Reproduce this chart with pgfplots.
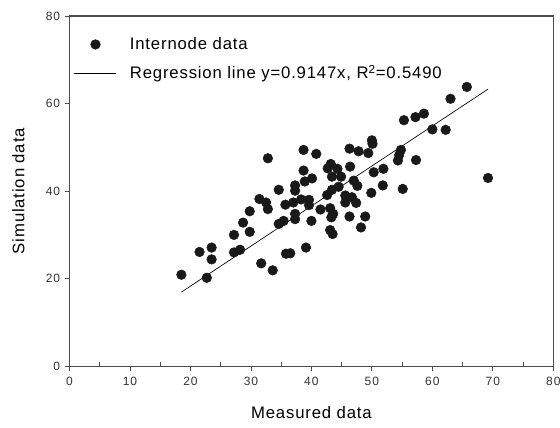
\documentclass[border=0pt]{standalone}
\usepackage{fontspec}
\setmainfont{Liberation Sans}
\newfontfamily\spaced[LetterSpace=5]{Liberation Sans}
\newfontfamily\tickfont[LetterSpace=8]{Liberation Sans}
\usepackage{pgfplots}
\pgfplotsset{compat=1.18}
\pgfplotsset{
  dotlegend/.style={legend image code/.code={\draw[##1] plot coordinates {(16pt,0cm)};}},
  linelegend/.style={legend image code/.code={\draw[##1] (0pt,0cm) -- (31.5pt,0cm);}},
}
\begin{document}
\begin{tikzpicture}
\begin{axis}[
  scale only axis,
  width=362pt, height=262pt,
  xmin=0, xmax=80, ymin=0, ymax=80,
  xtick={0,10,...,80}, ytick={0,20,...,80},
  minor x tick num=1,
  xtick pos=bottom, ytick pos=left,
  tick align=outside,
  major tick length=3.5pt, minor tick length=3pt,
  minor tick style={yshift=3pt},
  axis line style={draw=black!70, line width=0.8pt},
  tick style={draw=black!70, line width=0.6pt},
  /pgf/number format/assume math mode=true,
  tick label style={font=\tickfont\fontsize{9}{10}\selectfont, text=black!80},
  xticklabel style={yshift=-1pt},
  xlabel={Measured data}, ylabel={Simulation data},
  label style={font=\spaced\fontsize{12.5}{14}\selectfont},
  xlabel style={yshift=-9pt}, ylabel style={yshift=9pt},
  legend style={at={(0.0,0.955)}, anchor=north west, draw=none, fill=none,
    font=\spaced\fontsize{12.5}{14}\selectfont, row sep=6pt,
    /tikz/every odd column/.append style={column sep=8pt}},
  legend cell align=left,
]
\addplot[only marks, mark=*, mark size=3.6pt, color=black!90, dotlegend]
  coordinates {
(18.5,20.9) (22.7,20.2) (21.5,26.1) (23.5,27.1) (23.5,24.4) (27.2,30.0)
(27.2,26.0) (28.2,26.6) (28.7,32.8) (29.8,35.4) (29.8,30.7) (31.4,38.2)
(32.8,47.5) (32.5,37.4) (32.8,35.9) (34.6,40.3) (34.6,32.5) (31.7,23.5)
(33.6,21.9) (38.7,49.4) (40.8,48.5) (46.3,49.7) (47.8,49.1) (49.4,48.7)
(50.0,51.6) (50.1,50.8) (55.3,56.2) (57.2,56.9) (54.8,49.4) (54.3,47.0) (54.5,48.2)
(57.3,47.1) (55.1,40.5) (51.9,45.1) (51.8,41.3) (50.3,44.3) (49.9,39.6)
(46.4,45.6) (43.2,46.2) (42.7,45.2) (44.3,45.1) (44.9,43.3) (43.4,43.3)
(38.7,44.7) (38.9,42.2) (40.1,42.9) (37.3,41.3) (37.3,40.1) (47.0,42.4)
(47.6,41.2) (44.5,41.0) (43.4,40.3) (42.6,39.1) (45.6,39.0) (46.7,38.6)
(47.4,37.3) (45.6,37.4) (39.6,38.0) (39.6,36.8) (38.3,38.1) (37.0,37.4)
(35.7,36.9) (41.5,35.8) (43.1,36.1) (43.6,34.8) (43.3,34.0) (37.3,34.8)
(37.3,33.6) (35.4,33.2) (40.0,33.2) (46.3,34.2) (48.9,34.2) (48.2,31.7)
(43.1,31.1) (43.5,30.2) (39.1,27.1) (35.8,25.7) (36.5,25.8) (65.7,63.8)
(63.0,61.1) (58.6,57.7) (60.0,54.1) (62.2,54.0) (69.2,43.0)
  };
\addlegendentry{Internode data}
\addplot[black, line width=0.5pt, linelegend]
  coordinates {(18.5,16.92) (69.2,63.30)};
\addlegendentry{Regression line y=0.9147x, R\textsuperscript{2}=0.5490}
\end{axis}
\pgfresetboundingbox
\path ([shift={(-52pt,-46pt)}]current axis.south west) rectangle ([shift={(5pt,12pt)}]current axis.north east);
\end{tikzpicture}
\end{document}
